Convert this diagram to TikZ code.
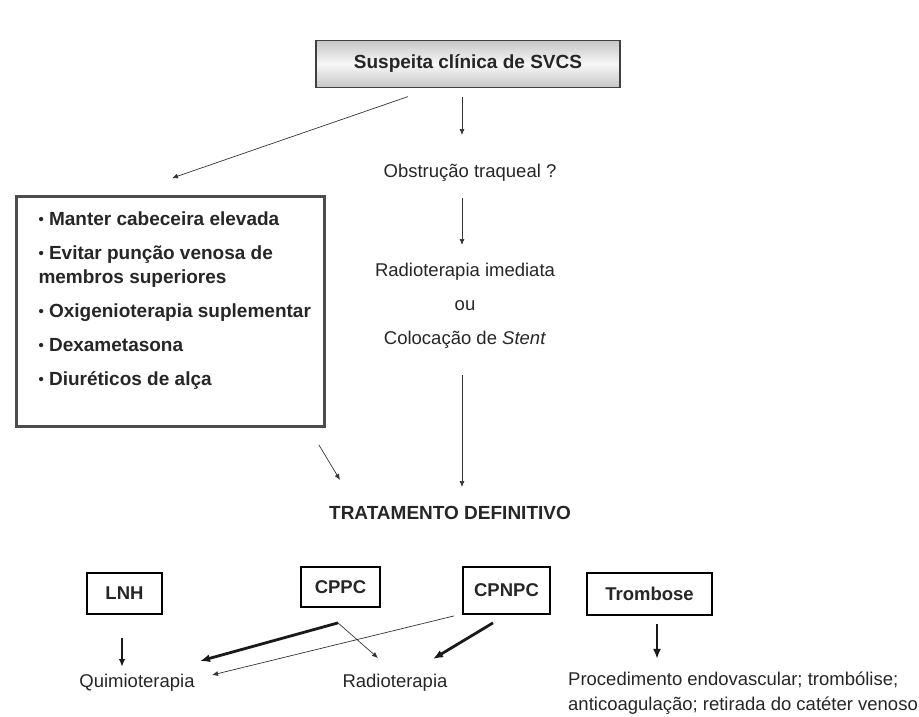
\documentclass[tikz,border=0pt]{standalone}
\usepackage{fontspec}
\setmainfont{Liberation Sans}
\usetikzlibrary{arrows.meta}

\newcommand{\pto}{{\fontsize{15}{15}\selectfont\raisebox{0.5pt}{•}}\ }

\begin{document}
\begin{tikzpicture}[x=1pt, y=-1pt,
    every node/.style={font=\fontsize{18.5}{22}\selectfont, text=black!85},
    arr/.style={-{Latex[length=6pt, width=5pt]}, line width=0.7pt, draw=black!80},
    thickarr/.style={-{Latex[length=10pt, width=8pt]}, line width=2.8pt, draw=black!90},
    caixa/.style={draw, line width=1.8pt, font=\bfseries\fontsize{18.5}{22}\selectfont, inner sep=0pt}]
    \useasboundingbox (0,0) rectangle (919,717);

    \node[draw=black!75, line width=1.2pt, top color=gray!45, bottom color=gray!45, middle color=gray!6,
          minimum width=304pt, minimum height=47pt, font=\bfseries\fontsize{19}{22}\selectfont]
          (suspeita) at (468, 64) {Suspeita clínica de SVCS};
    \node (obstrucao) at (470, 173) {Obstrução traqueal ?};
    \node[align=center, font=\fontsize{18.5}{34}\selectfont] (radimed) at (465, 306)
          {Radioterapia imediata\\ou\\Colocação de \textit{Stent}};
    \node[draw=black!70, line width=3.8pt, minimum width=308pt, minimum height=230pt]
          (medidas) at (170.5, 311.5) {};
    \node[anchor=north west, align=left, font=\bfseries\fontsize{19}{24}\selectfont] (lista) at (35, 208)
          {\pto Manter cabeceira elevada\\[10pt]
           \pto Evitar punção venosa de\\membros superiores\\[10pt]
           \pto Oxigenioterapia suplementar\\[10pt]
           \pto Dexametasona\\[10pt]
           \pto Diuréticos de alça};
    \node[font=\bfseries\fontsize{19}{22}\selectfont] (tratamento) at (450, 513) {TRATAMENTO DEFINITIVO};

    \node[caixa, minimum width=75pt, minimum height=41pt] (lnh) at (124.5, 593.5) {LNH};
    \node[caixa, minimum width=79pt, minimum height=40pt] (cppc) at (340.5, 587) {CPPC};
    \node[caixa, minimum width=87pt, minimum height=47pt] (cpnpc) at (506.5, 590.5) {CPNPC};
    \node[caixa, minimum width=125pt, minimum height=42pt] (trombose) at (649.5, 594) {Trombose};

    \node (quimio) at (137, 683) {Quimioterapia};
    \node (radio) at (395, 683) {Radioterapia};
    \node[anchor=north west, align=left, font=\fontsize{18.5}{25}\selectfont, inner sep=0pt] (procedimento) at (568, 672)
          {Procedimento endovascular; trombólise;\\anticoagulação; retirada do catéter venoso};

    \draw[arr] ([shift={(-60,8.5)}]suspeita.south) -- ([shift={(1.5,-16.5)}]medidas.north);
    \draw[arr] ([shift={(-6,8.5)}]suspeita.south) -- ([shift={(-8,-38)}]obstrucao.center);
    \draw[arr] ([shift={(-8,25)}]obstrucao.center) -- ([shift={(-3,-61)}]radimed.center);
    \draw[arr] ([shift={(-3,69)}]radimed.center) -- ([shift={(12,-26)}]tratamento.center);
    \draw[arr] ([shift={(-7.5,16.5)}]medidas.south east) -- ([shift={(-110,-33)}]tratamento.center);

    \draw[thickarr, line width=1.8pt, -{Latex[length=8pt, width=6.5pt]}] ([shift={(-2.5,23)}]lnh.south) -- ([shift={(-15,-16)}]quimio.center);
    \draw[thickarr] ([shift={(-2.5,15)}]cppc.south) -- ([shift={(63,-22)}]quimio.center);
    \draw[arr] ([shift={(-2.5,15)}]cppc.south) -- ([shift={(-17,-25)}]radio.center);
    \draw[arr] ([shift={(-8,1)}]cpnpc.south west) -- ([shift={(75,-8)}]quimio.center);
    \draw[thickarr] ([shift={(-13.5,8)}]cpnpc.south) -- ([shift={(38,-24)}]radio.center);
    \draw[thickarr] ([shift={(7.5,8)}]trombose.south) -- ([shift={(7.5,43)}]trombose.south);
\end{tikzpicture}
\end{document}
